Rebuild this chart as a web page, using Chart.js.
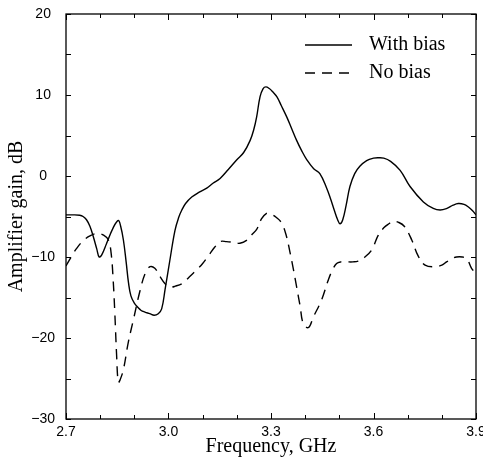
<!DOCTYPE html>
<html>
<head>
<meta charset="utf-8">
<script src="https://cdn.jsdelivr.net/npm/chart.js@4"></script>
<style>
  html, body { margin: 0; padding: 0; background: #fff; }
  #wrap { width: 483px; height: 462px; }
</style>
</head>
<body>
<div id="wrap"><canvas id="c" width="483" height="462"></canvas></div>
<script>
// ---- Data ----
const seriesNames = ["With bias", "No bias"];

const freqWithBias = [2.70, 2.72, 2.74, 2.75, 2.76, 2.77, 2.78, 2.79, 2.797, 2.805, 2.819, 2.838, 2.853, 2.86, 2.868, 2.876, 2.883, 2.89, 2.90, 2.91, 2.92, 2.931, 2.945, 2.958, 2.97, 2.98, 2.99, 3.004, 3.019, 3.03, 3.039, 3.05, 3.068, 3.09, 3.112, 3.13, 3.151, 3.175, 3.2, 3.22, 3.239, 3.25, 3.258, 3.268, 3.277, 3.285, 3.295, 3.305, 3.317, 3.33, 3.346, 3.36, 3.375, 3.39, 3.405, 3.425, 3.443, 3.463, 3.475, 3.485, 3.495, 3.502, 3.51, 3.52, 3.531, 3.545, 3.56, 3.58, 3.60, 3.614, 3.63, 3.65, 3.678, 3.707, 3.746, 3.775, 3.795, 3.815, 3.833, 3.848, 3.865, 3.877, 3.89, 3.90];
const gainWithBias = [-4.8, -4.8, -4.85, -5.0, -5.4, -6.2, -7.5, -9.0, -10.0, -9.7, -8.3, -6.4, -5.5, -6.2, -7.9, -10.6, -13.2, -14.8, -15.7, -16.2, -16.6, -16.8, -17.0, -17.2, -17.0, -16.4, -14.0, -10.4, -6.7, -5.1, -4.2, -3.4, -2.6, -2.0, -1.5, -0.9, -0.3, 0.8, 2.0, 2.9, 4.4, 5.8, 7.3, 9.8, 10.8, 11.0, 10.8, 10.4, 9.8, 8.7, 7.3, 5.9, 4.4, 3.1, 2.0, 0.9, 0.3, -1.5, -2.9, -4.2, -5.4, -5.9, -5.4, -3.6, -1.3, 0.3, 1.2, 1.9, 2.2, 2.25, 2.2, 1.8, 0.7, -1.3, -3.2, -4.0, -4.2, -4.0, -3.6, -3.4, -3.5, -3.8, -4.3, -4.8];

const freqNoBias = [2.70, 2.715, 2.73, 2.75, 2.77, 2.79, 2.81, 2.824, 2.832, 2.838, 2.843, 2.848, 2.853, 2.858, 2.868, 2.882, 2.897, 2.917, 2.932, 2.946, 2.96, 2.975, 2.99, 3.005, 3.02, 3.043, 3.06, 3.082, 3.10, 3.116, 3.135, 3.151, 3.17, 3.19, 3.209, 3.23, 3.245, 3.258, 3.272, 3.287, 3.30, 3.315, 3.331, 3.345, 3.355, 3.365, 3.375, 3.385, 3.395, 3.41, 3.424, 3.448, 3.468, 3.48, 3.492, 3.505, 3.521, 3.54, 3.555, 3.575, 3.595, 3.614, 3.63, 3.645, 3.658, 3.672, 3.69, 3.712, 3.731, 3.751, 3.78, 3.80, 3.814, 3.83, 3.843, 3.86, 3.873, 3.887, 3.895];
const gainNoBias = [-11.1, -10.0, -9.0, -8.0, -7.4, -7.1, -7.3, -7.9, -9.5, -12.8, -17.0, -22.0, -25.5, -25.2, -23.9, -20.6, -17.8, -14.1, -12.0, -11.2, -11.4, -12.4, -13.3, -13.7, -13.6, -13.2, -12.5, -11.6, -10.8, -9.9, -8.8, -8.1, -8.1, -8.2, -8.3, -7.9, -7.2, -6.6, -5.3, -4.6, -4.7, -5.1, -5.8, -7.4, -9.3, -11.4, -13.7, -16.0, -18.3, -18.7, -17.4, -15.3, -12.8, -11.6, -10.8, -10.6, -10.6, -10.6, -10.5, -10.0, -9.1, -7.3, -6.4, -5.9, -5.6, -5.7, -6.2, -7.9, -9.9, -11.0, -11.2, -11.0, -10.6, -10.2, -10.0, -10.0, -10.2, -11.4, -11.8];

const xTickLabels = ["2.7", "3.0", "3.3", "3.6", "3.9"];
const yTickLabels = ["\u221230", "\u221220", "\u221210", "0", "10", "20"];
const xTitle = "Frequency, GHz";
const yTitle = "Amplifier gain, dB";

// ---- Helpers ----
function toPoints(xs, ys) { return xs.map((x, i) => ({ x: x, y: ys[i] })); }

const serif = "'Liberation Serif', 'Times New Roman', serif";
const sans = "'Liberation Sans Narrow', 'Liberation Sans', Arial, sans-serif";

// Inward ticks on all four sides + frame + legend inside the plot
const framePlugin = {
  id: 'frame',
  afterDatasetsDraw(chart) {
    const { ctx, chartArea: a, scales: { x, y } } = chart;
    ctx.save();
    ctx.strokeStyle = '#000';
    ctx.lineWidth = 1.3;
    ctx.strokeRect(a.left, a.top, a.right - a.left, a.bottom - a.top);
    ctx.lineWidth = 1;
    ctx.beginPath();
    for (let i = 0; i <= 12; i++) {
      const v = 2.7 + i * 0.1;
      const px = Math.round(x.getPixelForValue(v)) + 0.5;
      const len = (i % 3 === 0) ? 6 : 4;
      ctx.moveTo(px, a.bottom); ctx.lineTo(px, a.bottom - len);
      ctx.moveTo(px, a.top); ctx.lineTo(px, a.top + len);
    }
    for (let v = -30; v <= 20; v += 5) {
      const py = Math.round(y.getPixelForValue(v)) + 0.5;
      ctx.moveTo(a.left, py); ctx.lineTo(a.left + 5, py);
      ctx.moveTo(a.right, py); ctx.lineTo(a.right - 5, py);
    }
    ctx.stroke();

    // legend
    const items = chart.data.datasets;
    const lx0 = 305, lx1 = 352, tx = 369;
    const rows = [45, 73];
    items.forEach((ds, i) => {
      ctx.beginPath();
      ctx.setLineDash(ds.borderDash || []);
      ctx.lineWidth = ds.borderWidth;
      ctx.strokeStyle = ds.borderColor;
      ctx.moveTo(lx0, rows[i]); ctx.lineTo(lx1, rows[i]);
      ctx.stroke();
      ctx.setLineDash([]);
      ctx.fillStyle = '#000';
      ctx.font = "20px " + serif;
      ctx.textBaseline = 'middle';
      ctx.textAlign = 'left';
      ctx.fillText(ds.label, tx, rows[i]);
    });
    ctx.restore();
  }
};

new Chart(document.getElementById('c'), {
  type: 'line',
  data: {
    datasets: [
      {
        label: seriesNames[0],
        data: toPoints(freqWithBias, gainWithBias),
        borderColor: '#000',
        borderWidth: 1.4,
        pointRadius: 0,
        tension: 0.4,
        fill: false
      },
      {
        label: seriesNames[1],
        data: toPoints(freqNoBias, gainNoBias),
        borderColor: '#000',
        borderWidth: 1.4,
        borderDash: [10, 7],
        pointRadius: 0,
        tension: 0.4,
        fill: false
      }
    ]
  },
  options: {
    responsive: false,
    animation: false,
    devicePixelRatio: 1,
    layout: { padding: { top: 14, right: 7, left: 0, bottom: 0 } },
    plugins: { legend: { display: false }, tooltip: { enabled: false } },
    scales: {
      x: {
        type: 'linear',
        min: 2.7, max: 3.9,
        grid: { display: false, drawTicks: false },
        border: { display: false },
        afterBuildTicks(scale) {
          scale.ticks = xTickLabels.map(s => ({ value: parseFloat(s) }));
        },
        ticks: {
          autoSkip: false, maxRotation: 0, padding: 5,
          color: '#000',
          font: { family: sans, size: 14 },
          callback: (v, i) => xTickLabels[i]
        },
        title: { display: true, text: xTitle, color: '#000', font: { family: serif, size: 20 }, padding: { top: 0, bottom: 3 } },
        afterFit(scale) { scale.height = 43; scale.paddingLeft = 0; scale.paddingRight = 0; }
      },
      y: {
        type: 'linear',
        min: -30, max: 20,
        grid: { display: false, drawTicks: false },
        border: { display: false },
        afterBuildTicks(scale) {
          scale.ticks = yTickLabels.map(s => ({ value: parseFloat(s.replace('\u2212', '-')) }));
        },
        ticks: {
          autoSkip: false, padding: 11, crossAlign: 'center',
          color: '#000',
          font: { family: sans, size: 14 },
          callback: (v, i) => yTickLabels[i]
        },
        title: { display: true, text: yTitle, color: '#000', font: { family: serif, size: 20 }, padding: { top: 5, bottom: 0 } },
        afterFit(scale) { scale.width = 66; scale.paddingTop = 0; scale.paddingBottom = 0; }
      }
    }
  },
  plugins: [framePlugin]
});
</script>
</body>
</html>
